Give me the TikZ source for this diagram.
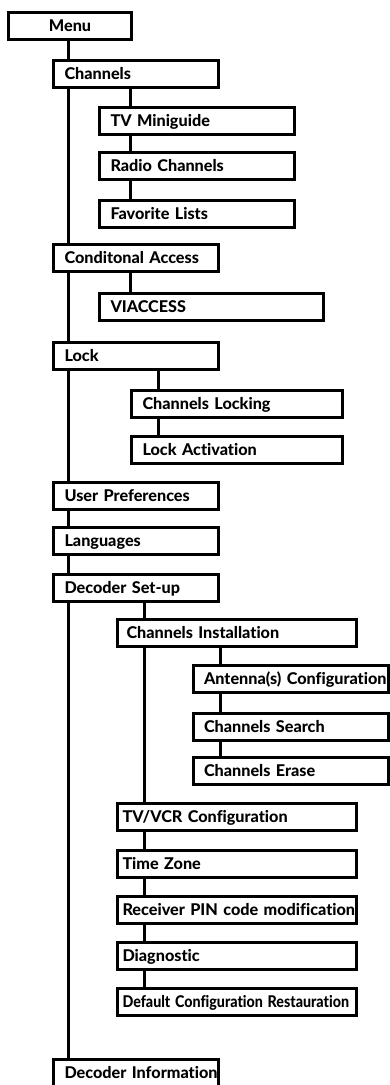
\documentclass[tikz,border=0pt]{standalone}
\usepackage{graphicx}
\usepackage{fontspec}
\setmainfont{Lato}[Ligatures=NoCommon, BoldFont={* Heavy}]
\usetikzlibrary{positioning}

\begin{document}
\begin{tikzpicture}[x=1pt,y=-1pt,
  menubox/.style={draw, line width=3pt, anchor=north west, minimum height=27pt,
    inner ysep=0pt, align=left, text height=12pt, text depth=2pt,
    font=\bfseries\fontsize{16.2}{18}\selectfont},
  boxw/.style 2 args={text width=#1, inner xsep=#2},
  link/.style={line width=3pt}]
\useasboundingbox (0,0) rectangle (390,1085);
\clip (0,0) rectangle (390,1085);
% Spines of the tree
\coordinate (sp0) at (68.5,0);
\coordinate (sp1) at (130,0);
\coordinate (sp2) at (158.5,0);
\coordinate (sp3) at (144,0);
\coordinate (sp4) at (220,0);
% Top level
\node[menubox, align=center, boxw={103pt}{10pt}] (menu) at (7,11) {Menu};
\node[menubox, boxw={143pt}{11pt}] (chan) at (52,59) {Channels};
\node[menubox, boxw={143pt}{11pt}] (cond) at (52,243) {Conditonal Access};
\node[menubox, boxw={143pt}{11pt}] (lock) at (52,341) {Lock};
\node[menubox, boxw={143pt}{11pt}] (upref) at (52,481) {User Preferences};
\node[menubox, boxw={143pt}{11pt}] (lang) at (52,526) {Languages};
\node[menubox, boxw={143pt}{11pt}] (decset) at (52,573) {Decoder Set-up};
\node[menubox, boxw={143pt}{11pt}] (decinfo) at (52,1058) {\mbox{Decoder Information}};
% Channels
\node[menubox, boxw={173pt}{11pt}] (tvmini) at (98,106) {TV Miniguide};
\node[menubox, boxw={173pt}{11pt}] (radio) at (98,151) {Radio Channels};
\node[menubox, boxw={173pt}{11pt}] (favlist) at (98,199) {Favorite Lists};
% Conditonal Access
\node[menubox, boxw={202pt}{11pt}] (viacc) at (98,292) {VIACCESS};
% Lock
\node[menubox, boxw={189pt}{11pt}] (chlock) at (130,389) {Channels Locking};
\node[menubox, boxw={189pt}{11pt}] (lockact) at (130,435) {Lock Activation};
% Decoder Set-up
\node[menubox, boxw={221pt}{9pt}] (chinst) at (116,618) {Channels Installation};
\node[menubox, boxw={174pt}{10.5pt}] (antenna) at (192,664) {\mbox{Antenna(s) Configuration}};
\node[menubox, boxw={174pt}{10.5pt}] (chsearch) at (192,712) {Channels Search};
\node[menubox, boxw={174pt}{10.5pt}] (cherase) at (192,756) {Channels Erase};
\node[menubox, boxw={229pt}{5pt}] (tvvcr) at (116,802) {TV/VCR Configuration};
\node[menubox, boxw={229pt}{5pt}] (tzone) at (116,849) {Time Zone};
\node[menubox, boxw={229pt}{5pt}] (pin) at (116,895) {\mbox{Receiver PIN code modification}};
\node[menubox, boxw={229pt}{5pt}] (diag) at (116,941) {Diagnostic};
\node[menubox, boxw={229pt}{5pt}] (defcfg) at (116,987) {\scalebox{0.88}[1]{Default Configuration Restauration}};
% Main trunk
\draw[link] (menu.south -| sp0) -- (chan.north -| sp0);
\draw[link] (chan.south -| sp0) -- (cond.north -| sp0);
\draw[link] (cond.south -| sp0) -- (lock.north -| sp0);
\draw[link] (lock.south -| sp0) -- (upref.north -| sp0);
\draw[link] (upref.south -| sp0) -- (lang.north -| sp0);
\draw[link] (lang.south -| sp0) -- (decset.north -| sp0);
\draw[link] (decset.south -| sp0) -- (decinfo.north -| sp0);
% Branches
\draw[link] (chan.south -| sp1) -- (tvmini.north -| sp1);
\draw[link] (tvmini.south -| sp1) -- (radio.north -| sp1);
\draw[link] (radio.south -| sp1) -- (favlist.north -| sp1);
\draw[link] (cond.south -| sp1) -- (viacc.north -| sp1);
\draw[link] (lock.south -| sp2) -- (chlock.north -| sp2);
\draw[link] (chlock.south -| sp2) -- (lockact.north -| sp2);
\draw[link] (decset.south -| sp3) -- (chinst.north -| sp3);
\draw[link] (chinst.south -| sp3) -- (tvvcr.north -| sp3);
\draw[link] (tvvcr.south -| sp3) -- (tzone.north -| sp3);
\draw[link] (tzone.south -| sp3) -- (pin.north -| sp3);
\draw[link] (pin.south -| sp3) -- (diag.north -| sp3);
\draw[link] (diag.south -| sp3) -- (defcfg.north -| sp3);
\draw[link] (chinst.south -| sp4) -- (antenna.north -| sp4);
\draw[link] (antenna.south -| sp4) -- (chsearch.north -| sp4);
\draw[link] (chsearch.south -| sp4) -- (cherase.north -| sp4);
\end{tikzpicture}
\end{document}
